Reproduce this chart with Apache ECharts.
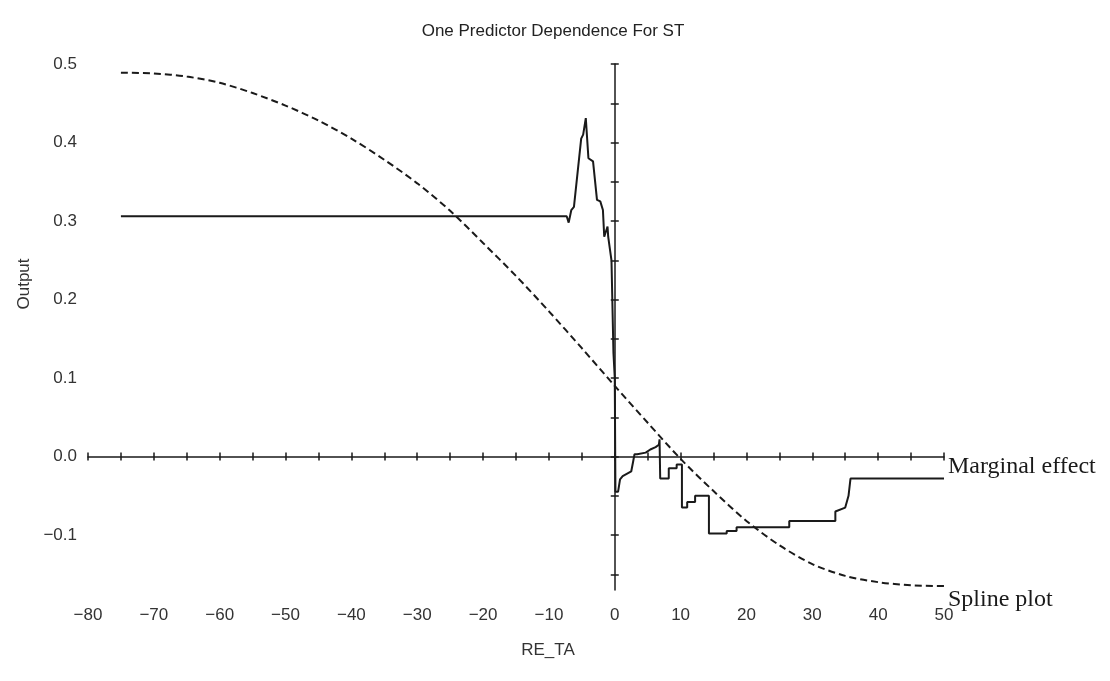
<!DOCTYPE html>
<html>
<head>
<meta charset="utf-8">
<title>One Predictor Dependence For ST</title>
<script src="https://cdn.jsdelivr.net/npm/echarts@6/dist/echarts.min.js"></script>
<style>
  html, body { margin: 0; padding: 0; background: #ffffff; }
  #chart { width: 1110px; height: 681px; }
</style>
</head>
<body>
<div id="chart"></div>
<script>
// RE_TA values and model output for the marginal-effect trace
const marginalX = [
  -75, -7.3, -7.0, -6.6, -6.2, -5.1, -4.8, -4.4, -4.0, -3.3, -2.7, -2.2, -1.8, -1.6, -1.3, -1.1, -1.0,
  -0.5, -0.2, 0, 0.1, 0.5, 0.8, 1.2, 2.5, 2.8, 3.0, 3.4, 4.7, 5.4, 6.2, 6.7, 6.8,
  6.9, 8.2, 8.2, 9.4, 9.4, 10.2, 10.2, 11.0, 11.0, 12.2, 12.2, 14.3, 14.3, 17.0, 17.0, 18.5, 18.5,
  26.5, 26.5, 33.5, 33.5, 35.0, 35.5, 35.8, 50
];
const marginalY = [
  0.306, 0.306, 0.298, 0.314, 0.318, 0.405, 0.410, 0.431, 0.380, 0.376, 0.327, 0.325, 0.314, 0.280, 0.280, 0.293, 0.280,
  0.250, 0.132, 0.100, -0.045, -0.045, -0.029, -0.025, -0.019, -0.006, 0.003, 0.003, 0.005, 0.009, 0.012, 0.015, 0.022,
  -0.028, -0.028, -0.015, -0.015, -0.010, -0.010, -0.065, -0.065, -0.058, -0.058, -0.050, -0.050, -0.098, -0.098, -0.095, -0.095, -0.090,
  -0.090, -0.082, -0.082, -0.070, -0.065, -0.050, -0.028, -0.028
];

// Fitted spline through the same predictor range
const splineX = [-75, -70, -65, -60, -55, -50, -45, -40, -35, -30, -25, -20, -15, -10, -5, 0, 5, 10, 15, 20, 25, 30, 35, 40, 45, 50];
const splineY = [0.489, 0.488, 0.484, 0.476, 0.463, 0.447, 0.428, 0.405, 0.378, 0.348, 0.313, 0.272, 0.230, 0.185, 0.138, 0.090, 0.043, -0.003, -0.044, -0.082, -0.113, -0.137, -0.152, -0.160, -0.164, -0.165];

// Axis labels and tick positions
const xLabelValues = [-80, -70, -60, -50, -40, -30, -20, -10, 0, 10, 20, 30, 40, 50];
const yLabelValues = [-0.1, 0, 0.1, 0.2, 0.3, 0.4, 0.5];
const yTickValues = [-0.15, -0.1, -0.05, 0, 0.05, 0.1, 0.15, 0.2, 0.25, 0.3, 0.35, 0.4, 0.45, 0.5];

const X_MIN = -80, X_MAX = 50, Y_MIN = -0.17, Y_MAX = 0.5;

const zip = (xs, ys) => xs.map((x, i) => [x, ys[i]]);
const minus = s => s.replace('-', '\u2212');

const sansFont = '"Liberation Sans", Arial, sans-serif';
const serifFont = '"Liberation Serif", "Times New Roman", serif';
const ink = '#1a1a1a';
const labelInk = '#333333';

const chart = echarts.init(document.getElementById('chart'), null, { renderer: 'canvas' });

// Crossing axis lines carry ticks on both sides: one axis draws inside ticks, one outside.
function crossX(inside, showLine) {
  return {
    type: 'value', min: X_MIN, max: X_MAX, interval: 5,
    axisLine: { show: showLine, onZero: true, lineStyle: { color: ink, width: 1.5 } },
    axisTick: { show: true, inside: inside, length: 4, lineStyle: { color: ink, width: 1.5 } },
    axisLabel: { show: false }, splitLine: { show: false }
  };
}
function crossY(inside, showLine) {
  return {
    type: 'value', min: Y_MIN, max: Y_MAX,
    axisLine: { show: showLine, onZero: true, lineStyle: { color: ink, width: 1.5 } },
    axisTick: { show: true, inside: inside, length: 4, customValues: yTickValues, lineStyle: { color: ink, width: 1.5 } },
    axisLabel: { show: false }, splitLine: { show: false }
  };
}

chart.setOption({
  animation: false,
  backgroundColor: '#ffffff',
  title: {
    text: 'One Predictor Dependence For ST',
    left: 548, top: 18, textAlign: 'center',
    textStyle: { fontFamily: sansFont, fontSize: 17, fontWeight: 'normal', color: '#222' }
  },
  grid: { left: 88, right: 166, top: 64, bottom: 91, containLabel: false },
  xAxis: [
    {
      type: 'value', min: X_MIN, max: X_MAX, position: 'bottom',
      name: 'RE_TA', nameLocation: 'middle', nameGap: 52,
      nameTextStyle: { fontFamily: sansFont, fontSize: 17, color: labelInk, padding: [0, 0, 0, 64] },
      axisLine: { show: false }, axisTick: { show: false }, splitLine: { show: false },
      axisLabel: {
        customValues: xLabelValues, margin: 17,
        fontFamily: sansFont, fontSize: 17, color: labelInk,
        formatter: v => minus(String(v))
      }
    },
    crossX(true, true),
    crossX(false, false)
  ],
  yAxis: [
    {
      type: 'value', min: Y_MIN, max: Y_MAX, position: 'left',
      axisLine: { show: false }, axisTick: { show: false }, splitLine: { show: false },
      axisLabel: {
        customValues: yLabelValues, margin: 11,
        fontFamily: sansFont, fontSize: 17, color: labelInk,
        formatter: v => minus(v.toFixed(1))
      }
    },
    crossY(true, true),
    crossY(false, false)
  ],
  graphic: [
    {
      type: 'text', x: 24, y: 284, rotation: Math.PI / 2,
      style: { text: 'Output', font: '17px ' + sansFont, fill: labelInk, align: 'center', verticalAlign: 'middle' }
    },
    {
      type: 'text', x: 948, y: 467,
      style: { text: 'Marginal effect', font: '24px ' + serifFont, fill: ink, align: 'left', verticalAlign: 'middle' }
    },
    {
      type: 'text', x: 948, y: 600,
      style: { text: 'Spline plot', font: '24px ' + serifFont, fill: ink, align: 'left', verticalAlign: 'middle' }
    }
  ],
  series: [
    {
      name: 'Marginal effect', type: 'line', xAxisIndex: 0, yAxisIndex: 0,
      data: zip(marginalX, marginalY), showSymbol: false, symbol: 'none',
      lineStyle: { color: ink, width: 2 }, z: 5
    },
    {
      name: 'Spline plot', type: 'line', xAxisIndex: 0, yAxisIndex: 0,
      data: zip(splineX, splineY), showSymbol: false, symbol: 'none', smooth: 0.3,
      lineStyle: { color: ink, width: 2, type: [7, 4] }, z: 4
    }
  ]
});
</script>
</body>
</html>
